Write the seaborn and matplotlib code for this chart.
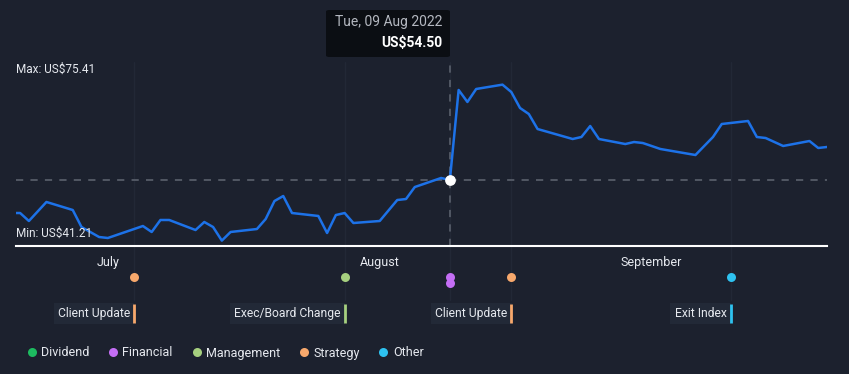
import pandas as pd
import seaborn as sns
import matplotlib.pyplot as plt
import matplotlib.dates as mdates
import matplotlib.transforms as mtransforms
from matplotlib.lines import Line2D
from matplotlib.patches import FancyBboxPatch

# --- dados de preço ---
dates = ["2022-06-17", "2022-06-21", "2022-06-22", "2022-06-24", "2022-06-27", "2022-06-28",
         "2022-06-30", "2022-07-01", "2022-07-05", "2022-07-06", "2022-07-07", "2022-07-08",
         "2022-07-11", "2022-07-12", "2022-07-13", "2022-07-14", "2022-07-15", "2022-07-18",
         "2022-07-19", "2022-07-20", "2022-07-21", "2022-07-22", "2022-07-25", "2022-07-26",
         "2022-07-27", "2022-07-28", "2022-07-29", "2022-08-01", "2022-08-03", "2022-08-04",
         "2022-08-05", "2022-08-08", "2022-08-09", "2022-08-10", "2022-08-11", "2022-08-12",
         "2022-08-15", "2022-08-16", "2022-08-17", "2022-08-18", "2022-08-19", "2022-08-23",
         "2022-08-24", "2022-08-25", "2022-08-26", "2022-08-29", "2022-08-30", "2022-08-31",
         "2022-09-01", "2022-09-02", "2022-09-06", "2022-09-08", "2022-09-09", "2022-09-12",
         "2022-09-13", "2022-09-14", "2022-09-16", "2022-09-19", "2022-09-20", "2022-09-21"]
prices = [47.26, 47.26, 45.51, 49.68, 47.92, 44.19,
          42.00, 41.78, 44.41, 43.10, 45.73, 45.73,
          43.53, 45.29, 44.19, 41.21, 43.10, 43.75,
          45.95, 49.89, 50.99, 47.26, 46.61, 42.88,
          46.82, 47.26, 45.07, 45.51, 50.11, 50.33,
          52.96, 54.94, 54.50, 74.24, 71.61, 74.46,
          75.41, 73.80, 70.29, 68.97, 65.68, 63.49,
          63.93, 66.34, 63.49, 62.39, 62.83, 62.61,
          61.96, 61.30, 59.98, 63.93, 66.78, 67.44,
          63.93, 63.71, 61.96, 63.05, 61.52, 61.74]

# --- eventos ---
event_dates = ["2022-07-04", "2022-07-28", "2022-08-09", "2022-08-09", "2022-08-16", "2022-09-10"]
event_types = ["Strategy", "Management", "Financial", "Financial", "Strategy", "Other"]
event_labels = ["Client Update", "Exec/Board Change", "", "", "Client Update", "Exit Index"]
event_row = [0, 0, 0, 1, 0, 0]

legend_names = ["Dividend", "Financial", "Management", "Strategy", "Other"]
legend_colors = ["#1dbb60", "#c46ef5", "#a6d07f", "#f7a86c", "#2ec2f0"]
type_color = dict(zip(legend_names, legend_colors))

tick_dates = ["2022-07-01", "2022-08-01", "2022-09-01"]
tick_labels = ["July", "August", "September"]

sel_date = "2022-08-09"
sel_label = "Tue, 09 Aug 2022"
sel_price = 54.50
max_price = 75.41
min_price = 41.21

BG = "#1c212e"
TXT = "#e6e9ef"

df = pd.DataFrame({"date": pd.to_datetime(dates), "price": prices})
ev = pd.DataFrame({"date": pd.to_datetime(event_dates), "type": event_types,
                   "label": event_labels, "row": event_row})

sns.set_style("dark")
plt.rcParams["font.family"] = ["Roboto", "DejaVu Sans"]

fig = plt.figure(figsize=(8.49, 3.74), dpi=100, facecolor=BG)
H = 374.0
W = 849.0
ax = fig.add_axes([16 / W, (H - 246) / H, 811 / W, 246 / H])
ax.set_facecolor(BG)

# escala vertical: 4.56 px por dólar, 54.50 em y=180px
ppd = 4.56
ax.set_ylim(sel_price - 66 / ppd, sel_price + 180 / ppd)
x0 = mdates.date2num(pd.Timestamp("2022-07-01")) - 10.47
x1 = mdates.date2num(pd.Timestamp("2022-09-21"))
ax.set_xlim(x0, x1)


def yfrac(py):
    # pixel vertical (do topo) -> fração dos eixos
    return (246 - py) / 246.0


blend = mtransforms.blended_transform_factory(ax.transData, ax.transAxes)

# linhas verticais fracas dos eventos
for d in ev["date"].unique():
    xd = mdates.date2num(d)
    ax.plot([xd, xd], [yfrac(300), yfrac(62)], color="#222836", lw=1,
            transform=blend, clip_on=False, zorder=0)

# linhas tracejadas do ponto selecionado
ax.axhline(sel_price, color="#565c68", lw=1.3, dashes=(4, 4), zorder=1)
xs = mdates.date2num(pd.Timestamp(sel_date))
ax.plot([xs, xs], [yfrac(246), yfrac(62)], color="#565c68", lw=1.3, dashes=(4, 4),
        transform=blend, zorder=1)

sns.lineplot(data=df, x="date", y="price", ax=ax, color="#1d72e8", lw=1.8, zorder=3)
ax.scatter([xs], [sel_price], s=45, color="white", zorder=5)

ax.set_xlabel("")
ax.set_ylabel("")
ax.set_yticks([])
ax.set_xticks(mdates.date2num(pd.to_datetime(tick_dates)))
ax.set_xticklabels(tick_labels)
ax.tick_params(axis="x", colors="#8d929c", length=3.5, width=1, pad=4,
               labelcolor=TXT, labelsize=9)
ax.grid(False)
for s in ["top", "left", "right"]:
    ax.spines[s].set_visible(False)
ax.spines["bottom"].set_color("white")
ax.spines["bottom"].set_linewidth(1.5)

# rótulos max / min
ax.text(0, yfrac(69), f"Max: US${max_price:.2f}", transform=ax.transAxes,
        color=TXT, fontsize=8.5, va="center", ha="left")
ax.text(0, yfrac(233), f"Min: US${min_price:.2f}", transform=ax.transAxes,
        color=TXT, fontsize=8.5, va="center", ha="left")

# tooltip
fig.patches.append(FancyBboxPatch((326 / W, 1 - 57 / H), 124 / W, 47 / H,
                                  boxstyle="round,pad=0,rounding_size=0.004",
                                  transform=fig.transFigure, fc="#0b0e13", ec="none"))
fig.text(442 / W, 1 - 22 / H, sel_label, ha="right", va="center", color="#b4b8c0", fontsize=10)
fig.text(442 / W, 1 - 43 / H, f"US${sel_price:.2f}", ha="right", va="center",
         color="white", fontsize=10, fontweight="bold")

# marcadores dos eventos
ev["x"] = mdates.date2num(ev["date"])
ev["yf"] = [yfrac(277 + 6 * r) for r in ev["row"]]
for t, g in ev.groupby("type"):
    ax.scatter(g["x"], g["yf"], s=42, color=type_color[t], transform=blend,
               clip_on=False, zorder=5, linewidths=0)

# rótulos dos eventos
for _, r in ev[ev["label"] != ""].iterrows():
    c = type_color[r["type"]]
    ax.plot([r["x"], r["x"]], [yfrac(304), yfrac(323)], color=c, lw=2,
            transform=blend, clip_on=False, zorder=6, solid_capstyle="butt")
    ax.text(r["x"] - 0.45, yfrac(313.5), r["label"], transform=blend, ha="right", va="center",
            color=TXT, fontsize=8.7,
            bbox=dict(boxstyle="square,pad=0.35", fc="#222937", ec="none"), zorder=5)

# legenda
handles = [Line2D([], [], marker="o", ls="", markersize=6.5, markerfacecolor=c,
                  markeredgewidth=0) for c in legend_colors]
fig.legend(handles, legend_names, loc="center left", bbox_to_anchor=(24 / W, 1 - 353 / H),
           ncol=5, frameon=False, fontsize=9, labelcolor=TXT, handletextpad=0.15,
           columnspacing=1.3, handlelength=1.2, borderaxespad=0, borderpad=0)

fig.savefig("out.png", dpi=100, facecolor=BG)
